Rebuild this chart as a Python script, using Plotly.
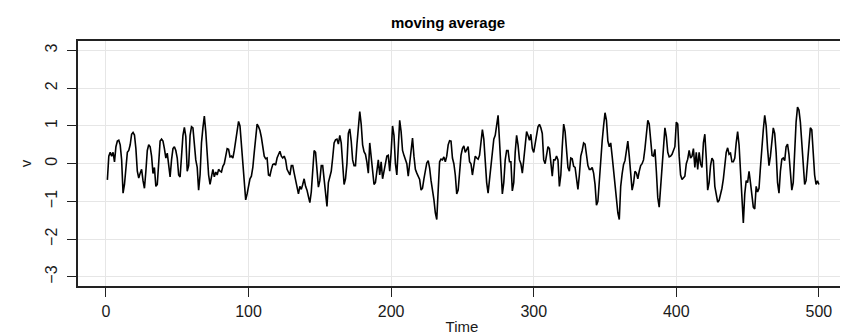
import plotly.graph_objects as go

title_text = "moving average"
x_label = "Time"
y_label = "v"

x_ticks = [0, 100, 200, 300, 400, 500]
y_ticks = [-3, -2, -1, 0, 1, 2, 3]

time = list(range(1, 501))

v = [
    -0.43, 0.20, 0.30, 0.20, 0.30, 0.05, 0.45, 0.60, 0.62, 0.50,
    0.10, -0.78, -0.55, -0.15, 0.30, 0.35, 0.50, 0.78, 0.83, 0.76,
    0.40, -0.20, -0.38, -0.25, -0.15, -0.45, -0.65, -0.20, 0.35, 0.50,
    0.45, 0.20, -0.26, -0.10, -0.60, -0.55, 0.20, 0.60, 0.65, 0.60,
    0.40, 0.15, 0.28, -0.10, -0.35, 0.10, 0.40, 0.45, 0.35, 0.15,
    -0.30, -0.35, 0.20, 0.75, 0.96, 0.72, -0.20, -0.05, 0.75, 0.98,
    0.95, 0.43, 0.10, -0.10, -0.70, -0.30, 0.55, 0.95, 1.26, 0.85,
    0.10, -0.30, -0.55, -0.35, -0.15, -0.35, -0.22, -0.30, -0.15, -0.20,
    -0.22, -0.07, 0.00, 0.20, 0.40, 0.38, 0.18, 0.20, 0.15, 0.35,
    0.60, 0.95, 1.12, 1.00, 0.50, -0.20, -0.70, -0.96, -0.80, -0.55,
    -0.40, -0.33, -0.10, 0.30, 0.70, 1.05, 0.98, 0.88, 0.70, 0.40,
    0.20, 0.13, 0.15, -0.30, -0.32, -0.15, -0.02, 0.00, -0.04, 0.15,
    0.25, 0.33, 0.20, 0.15, 0.20, 0.10, -0.15, -0.25, -0.30, -0.05,
    -0.05, -0.25, -0.45, -0.60, -0.80, -0.60, -0.68, -0.55, -0.40, -0.60,
    -0.70, -0.87, -1.03, -0.75, -0.10, 0.35, 0.30, -0.10, -0.62, -0.45,
    -0.05, -0.05, -0.45, -0.90, -1.13, -0.50, -0.30, -0.20, 0.15, 0.55,
    0.63, 0.65, 0.52, 0.75, 0.55, 0.00, -0.55, -0.40, 0.00, 0.80,
    0.92, 0.60, 0.10, -0.05, -0.05, 0.50, 1.00, 1.38, 1.05, 0.50,
    0.32, 0.25, 0.04, -0.25, 0.55, 0.20, -0.30, -0.55, -0.50, -0.15,
    0.10, -0.30, 0.05, -0.40, -0.20, 0.10, 0.20, 0.22, -0.20, 0.30,
    1.00, 0.75, 0.00, -0.30, 0.40, 1.15, 0.85, 0.35, 0.22, 0.12,
    0.00, -0.33, -0.02, 0.30, 0.68, 0.20, -0.15, -0.25, -0.35, -0.42,
    -0.70, -0.65, -0.40, -0.15, 0.02, 0.08, -0.12, -0.45, -0.65, -0.95,
    -1.30, -1.48, -0.70, 0.05, 0.12, 0.10, 0.18, 0.05, 0.20, 0.50,
    0.61, 0.60, 0.15, 0.00, -0.30, -0.80, -0.70, -0.30, 0.22, 0.40,
    0.47, 0.30, 0.40, 0.45, 0.05, 0.00, -0.30, -0.10, 0.20, 0.15,
    0.12, 0.22, 0.60, 0.90, 0.65, 0.00, -0.50, -0.78, -0.45, 0.00,
    0.35, 0.65, 0.75, 1.00, 1.28, 0.60, -0.15, -0.80, -0.50, 0.10,
    0.35, 0.35, 0.05, 0.05, -0.72, -0.50, 0.30, 0.75, 0.50, 0.10,
    0.00, -0.25, 0.10, 0.50, 0.85, 0.75, 0.62, 0.78, 0.40, 0.30,
    0.50, 0.80, 0.98, 1.04, 0.95, 0.80, 0.10, 0.00, 0.30, 0.45,
    0.40, 0.00, -0.33, 0.10, 0.10, 0.20, 0.10, -0.60, -0.30, 0.45,
    1.05, 0.85, 0.30, -0.10, -0.20, 0.15, 0.13, -0.07, -0.10, -0.40,
    -0.68, -0.30, 0.20, 0.35, 0.55, 0.52, 0.20, -0.05, -0.15, -0.15,
    -0.10, -0.25, -0.55, -1.10, -1.00, -0.40, 0.10, 0.60, 1.00, 1.35,
    1.15, 0.60, 0.45, 0.55, 0.20, -0.20, -0.60, -0.95, -1.30, -1.48,
    -0.60, -0.27, -0.02, 0.08, 0.35, 0.60, 0.20, -0.40, -0.70, -0.52,
    -0.20, -0.25, -0.40, -0.20, -0.05, 0.00, 0.10, 0.40, 0.85, 1.15,
    1.05, 0.50, 0.22, 0.20, 0.38, -0.20, -0.90, -1.15, -0.60, 0.00,
    0.45, 0.95, 0.72, 0.30, 0.18, 0.20, 0.25, 0.35, 0.45, 1.10,
    1.05, 0.20, -0.30, -0.42, -0.38, -0.33, 0.00, 0.12, 0.35, 0.15,
    0.20, 0.40, -0.10, 0.30, -0.15, 0.30, 0.00, -0.10, 0.55, 0.78,
    0.15, -0.70, -0.50, -0.05, 0.15, 0.08, -0.60, -0.85, -1.02, -0.97,
    -0.82, -0.65, -0.40, -0.10, 0.30, 0.42, 0.25, 0.28, 0.05, 0.05,
    0.15, 0.55, 0.85, 0.50, -0.20, -0.90, -1.57, -0.80, -0.45, -0.50,
    -0.20, -0.50, -0.90, -1.15, -1.20, -0.60, -0.75, -0.65, -0.10, 0.50,
    0.90, 1.28, 1.00, 0.40, -0.05, 0.20, 0.60, 0.95, 0.80, 0.30,
    -0.50, -0.78, -0.20, 0.12, 0.15, 0.08, 0.45, 0.52, 0.25, -0.30,
    -0.70, -0.50, 0.35, 1.10, 1.50, 1.42, 1.10, 0.50, -0.10, -0.55,
    -0.45, 0.00, 0.60, 0.95, 0.90, 0.30, -0.30, -0.55, -0.45, -0.55,
]

font_family = "Liberation Sans, Arial, sans-serif"
text_color = "#1a1a1a"

fig = go.Figure()
fig.add_trace(go.Scatter(
    x=time, y=v, mode="lines",
    line=dict(color="black", width=1.6),
    showlegend=False, hoverinfo="skip",
))

fig.update_layout(
    template="none",
    width=848, height=335,
    margin=dict(l=70, r=10, t=33, b=57, autoexpand=False),
    paper_bgcolor="white", plot_bgcolor="white",
    font=dict(family=font_family, size=15, color=text_color),
    title=dict(text="<b>" + title_text + "</b>", x=0.519, xanchor="center",
               y=0.955, yanchor="middle",
               font=dict(size=15, color="black", family=font_family)),
)

fig.update_xaxes(
    range=[-19.6, 519], tickmode="array", tickvals=x_ticks,
    ticks="outside", ticklen=9, tickwidth=1.3, tickcolor="#222",
    showline=True, linecolor="#222", linewidth=1.5, mirror=True,
    showgrid=True, gridcolor="#e6e6e6", gridwidth=1, zeroline=False,
    automargin=False, ticklabelstandoff=1,
    title=dict(text=x_label, standoff=3, font=dict(size=15)),
    tickfont=dict(size=16),
)
fig.update_yaxes(
    range=[-3.24, 3.25], tickmode="array", tickvals=y_ticks,
    ticks="outside", ticklen=9, tickwidth=1.3, tickcolor="#222",
    showline=True, linecolor="#222", linewidth=1.5, mirror=True,
    showgrid=True, gridcolor="#e6e6e6", gridwidth=1, zeroline=False,
    automargin=False, tickangle=-90, ticklabelstandoff=4,
    title=dict(text=y_label, standoff=8, font=dict(size=15)),
    tickfont=dict(size=16),
)

fig.write_html("out.html")
